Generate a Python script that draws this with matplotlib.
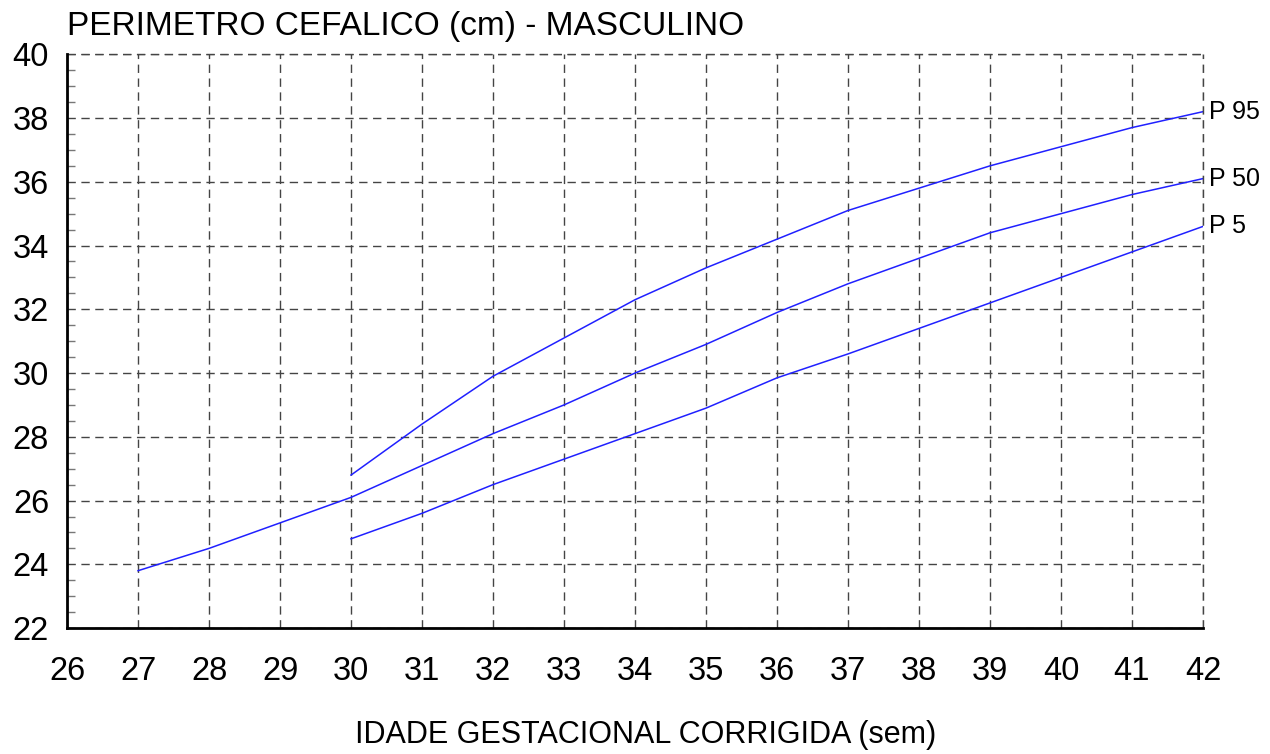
import matplotlib.pyplot as plt
import numpy as np

# idade gestacional corrigida (semanas)
weeks_p50 = [27, 28, 29, 30, 31, 32, 33, 34, 35, 36, 37, 38, 39, 40, 41, 42]
p50 = [23.8, 24.5, 25.3, 26.1, 27.1, 28.1, 29.0, 30.0, 30.9, 31.9, 32.8, 33.6, 34.4, 35.0, 35.6, 36.1]

weeks_p = [30, 31, 32, 33, 34, 35, 36, 37, 38, 39, 40, 41, 42]
p95 = [26.8, 28.4, 29.9, 31.1, 32.3, 33.3, 34.2, 35.1, 35.8, 36.5, 37.1, 37.7, 38.2]
p5 = [24.8, 25.6, 26.5, 27.3, 28.1, 28.9, 29.85, 30.6, 31.4, 32.2, 33.0, 33.8, 34.6]

x_ticks = list(range(26, 43))
y_ticks = list(range(22, 41, 2))

plt.rcParams['font.family'] = ['Liberation Sans', 'DejaVu Sans']

fig = plt.figure(figsize=(12.7, 7.54), dpi=100)
ax = fig.add_axes([0.0528, 0.167, 0.8944, 0.761])

line_color = '#2020ff'
ax.plot(weeks_p, p95, color=line_color, lw=1.1)
ax.plot(weeks_p50, p50, color=line_color, lw=1.1)
ax.plot(weeks_p, p5, color=line_color, lw=1.1)

# labels at the end of each curve
ax.text(42.08, p95[-1], 'P 95', fontsize=18, va='center', ha='left')
ax.text(42.08, p50[-1], 'P 50', fontsize=18, va='center', ha='left')
ax.text(42.08, p5[-1], 'P 5', fontsize=18, va='center', ha='left')

ax.set_xlim(26, 42)
ax.set_ylim(22, 40)
ax.set_xticks(x_ticks)
ax.set_yticks(y_ticks)
ax.set_yticks(np.arange(22, 40, 0.5), minor=True)
ax.tick_params(axis='both', labelsize=23.5)
ax.tick_params(axis='x', length=0, pad=20)
ax.tick_params(axis='y', which='major', length=0, pad=13)
ax.tick_params(axis='y', which='minor', direction='in', length=6, color='#777777', width=1)

dash = (0, (6, 4))
ax.grid(True, which='major', color='#444444', linestyle=dash, lw=1)
# dashed borders on top/right like the other grid lines
for s in ['top', 'right']:
    ax.spines[s].set_visible(False)
ax.axhline(40, color='#444444', linestyle=dash, lw=1, clip_on=False)
ax.axvline(42, color='#444444', linestyle=dash, lw=1, clip_on=False)
for s in ['left', 'bottom']:
    ax.spines[s].set_linewidth(2)
    ax.spines[s].set_color('black')

fig.text(0.0528, 0.9655, 'PERIMETRO CEFALICO (cm) - MASCULINO', fontsize=24, va='center', ha='left')
fig.text(0.508, 0.025, 'IDADE GESTACIONAL CORRIGIDA (sem)', fontsize=22, va='center', ha='center')

fig.savefig('out.png', dpi=100)
